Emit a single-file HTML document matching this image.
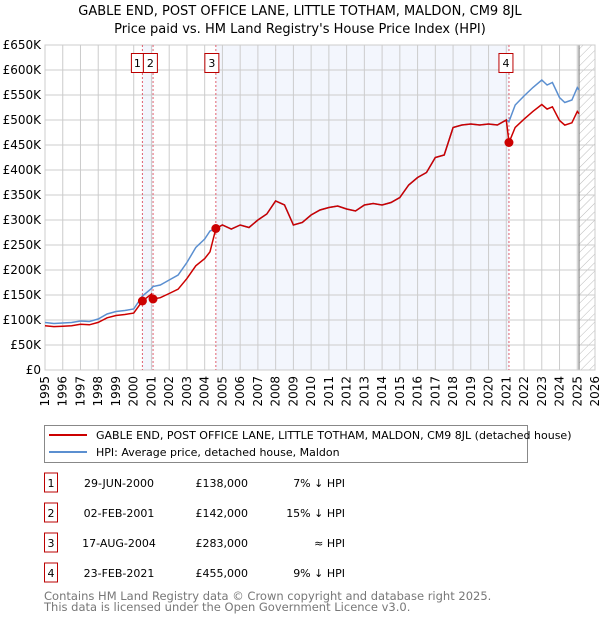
<!DOCTYPE html>
<html><head><meta charset="utf-8"><style>
body{margin:0;background:#fff;font-family:"DejaVu Sans","Liberation Sans",sans-serif}
svg text{font-family:"DejaVu Sans","Liberation Sans",sans-serif}
</style></head><body>
<svg id="c" width="600" height="620" xmlns="http://www.w3.org/2000/svg">
<defs><pattern id="hatch" width="6" height="6" patternUnits="userSpaceOnUse" patternTransform="rotate(45)"><line x1="0" y1="0" x2="0" y2="6" stroke="#bbb" stroke-width="1"/></pattern></defs>
<text x="300" y="15" text-anchor="middle" font-size="13">GABLE END, POST OFFICE LANE, LITTLE TOTHAM, MALDON, CM9 8JL</text>
<text x="300" y="33" text-anchor="middle" font-size="13">Price paid vs. HM Land Registry's House Price Index (HPI)</text>
<g id="plot"></g>
<rect x="44.5" y="425.5" width="483" height="37" fill="#fff" stroke="#888"/>
<line x1="49" y1="435" x2="87" y2="435" stroke="#cc0000" stroke-width="2"/>
<text x="96" y="439" font-size="11">GABLE END, POST OFFICE LANE, LITTLE TOTHAM, MALDON, CM9 8JL (detached house)</text>
<line x1="49" y1="452" x2="87" y2="452" stroke="#5b8fd0" stroke-width="2"/>
<text x="96" y="456" font-size="11">HPI: Average price, detached house, Maldon</text>
<g id="table" font-size="11"></g>
<text x="44" y="600" font-size="11.5" fill="#777">Contains HM Land Registry data © Crown copyright and database right 2025.</text>
<text x="44" y="611" font-size="11.5" fill="#777">This data is licensed under the Open Government Licence v3.0.</text>
</svg>
<script>
const hpiYears=[1995,1995.5,1996,1996.5,1997,1997.5,1998,1998.5,1999,1999.5,2000,2000.49,2001,2001.09,2001.5,2002,2002.5,2003,2003.5,2004,2004.3,2004.63,2005,2005.5,2006,2006.5,2007,2007.5,2008,2008.5,2009,2009.5,2010,2010.5,2011,2011.5,2012,2012.5,2013,2013.5,2014,2014.5,2015,2015.5,2016,2016.5,2017,2017.5,2018,2018.5,2019,2019.5,2020,2020.5,2021,2021.15,2021.5,2022,2022.5,2023,2023.3,2023.6,2024,2024.3,2024.7,2025,2025.1];
const hpiValues=[95,93,94,95,98,97,102,112,117,119,122,148,163,167,170,180,190,215,245,262,278,283,290,282,290,285,300,312,338,330,290,295,310,320,325,328,322,318,330,333,330,335,345,370,385,395,425,430,485,490,492,490,492,490,500,497,530,548,565,580,570,575,545,535,540,565,560];
const saleYears=[2000.49,2001.09,2004.63,2021.15];
const salePrices=[138,142,283,455];
const saleLabels=["1","2","3","4"];
const saleDates=["29-JUN-2000","02-FEB-2001","17-AUG-2004","23-FEB-2021"];
const salePriceText=["£138,000","£142,000","£283,000","£455,000"];
const saleHpiText=["7% ↓ HPI","15% ↓ HPI","≈ HPI","9% ↓ HPI"];
const yTicks=[0,50,100,150,200,250,300,350,400,450,500,550,600,650];
const xTicks=[1995,1996,1997,1998,1999,2000,2001,2002,2003,2004,2005,2006,2007,2008,2009,2010,2011,2012,2013,2014,2015,2016,2017,2018,2019,2020,2021,2022,2023,2024,2025,2026];

const L=45,R=595,T=45,B=370,x0=1995,x1=2026,yMax=650;
const X=y=>L+(y-x0)/(x1-x0)*(R-L);
const Y=v=>B-v/yMax*(B-T);
const NS="http://www.w3.org/2000/svg";
const g=document.getElementById('plot');
function mk(tag,at,parent){const e=document.createElementNS(NS,tag);for(const k in at)e.setAttribute(k,at[k]);(parent||g).appendChild(e);return e;}
function hpiAt(t){for(let i=0;i<hpiYears.length-1;i++){if(t<=hpiYears[i+1]){const f=(t-hpiYears[i])/(hpiYears[i+1]-hpiYears[i]);return hpiValues[i]+f*(hpiValues[i+1]-hpiValues[i]);}}return hpiValues[hpiValues.length-1];}

for(const [a,b] of [[0,1],[2,3]]){
 const r=mk('rect',{x:X(saleYears[a]),y:T,width:X(saleYears[b])-X(saleYears[a]),height:B-T,fill:'#eef2fc',opacity:0.7});
 
 
}
const lastY=hpiYears[hpiYears.length-1];
const hr=mk('rect',{x:X(lastY),y:T,width:R-X(lastY),height:B-T,fill:'url(#hatch)'});


yTicks.forEach(v=>{
 const l=mk('line',{x1:L,x2:R,y1:Y(v),y2:Y(v),stroke:'#ccc'});
 
 
 const t=mk('text',{x:L-4,y:Y(v)+4,'text-anchor':'end','font-size':12});
 t.textContent=v===0?'£0':'£'+v+'K';
 
 
});
xTicks.forEach(v=>{
 const l=mk('line',{x1:X(v),x2:X(v),y1:T,y2:B,stroke:'#ccc'});
 
 
 const t=mk('text',{x:0,y:0,'text-anchor':'end','font-size':12,transform:`translate(${X(v)+4},${B+6}) rotate(-90)`});
 t.textContent=v;
 
 
});
const vl=mk('line',{x1:X(lastY),x2:X(lastY),y1:T,y2:B,stroke:'#888','stroke-width':1.2});


mk('rect',{x:L,y:T,width:R-L,height:B-T,fill:'none',stroke:'#ccc'});
saleYears.forEach((s,i)=>{
 const l=mk('line',{x1:X(s),x2:X(s),y1:T,y2:B,stroke:'#e06070','stroke-dasharray':'2,2'});
 
 
});
let d='';hpiYears.forEach((t,i)=>{d+=(i?'L':'M')+X(t).toFixed(1)+','+Y(hpiValues[i]).toFixed(1);});
const hp=mk('path',{d:d,fill:'none',stroke:'#5b8fd0','stroke-width':1.5});


let pd='';
hpiYears.forEach((t,i)=>{
 let k=0;for(let j=0;j<saleYears.length;j++){if(t>=saleYears[j]-1e-6)k=j;}
 const v=salePrices[k]*hpiValues[i]/hpiAt(saleYears[k]);
 pd+=(i?'L':'M')+X(t).toFixed(1)+','+Y(v).toFixed(1);
});
const pp=mk('path',{d:pd,fill:'none',stroke:'#cc0000','stroke-width':1.5});


const boxOff=[-11,-10,-11,-10];
saleYears.forEach((s,i)=>{
 const c=mk('circle',{cx:X(s),cy:Y(salePrices[i]),r:4.5,fill:'#cc0000'});
 
 
 const bx=i===1?X(saleYears[0])+1:X(s)+boxOff[i];
 const b=mk('rect',{x:bx,y:53.5,width:i===0?12:14,height:19,fill:'#fff',stroke:'#bb0000'});
 
 
 const t=mk('text',{x:bx+(i===0?6:7),y:67,'text-anchor':'middle','font-size':11});
 t.textContent=saleLabels[i];
 
 
});
const tb=document.getElementById('table');
saleLabels.forEach((lab,i)=>{
 const cy=483+i*30;
 const b=mk('rect',{x:44.5,y:cy-10,width:13,height:19,fill:'#fff',stroke:'#bb0000'},tb);
 
 
 const cells=[[51,'middle',lab],[119,'middle',saleDates[i]],[248,'end',salePriceText[i]],[345,'end',saleHpiText[i]]];
 cells.forEach(c=>{
  const t=mk('text',{x:c[0],y:cy+4,'text-anchor':c[1]},tb);
  t.textContent=c[2];
  
  
 });
});
</script>
</body></html>
